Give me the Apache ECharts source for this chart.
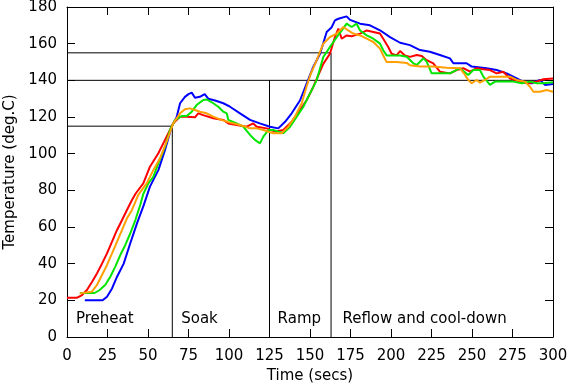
<!DOCTYPE html>
<html>
<head>
<meta charset="utf-8">
<script src="https://cdn.jsdelivr.net/npm/echarts@6/dist/echarts.min.js"></script>
<style>html,body{margin:0;padding:0;background:#fff}#c{width:573px;height:386px}</style>
</head>
<body>
<div id="c"></div>
<script>
// Time (secs), Temperature (deg.C)
const blueData = [[11,20],[22,20],[24.7,22],[27.8,26.5],[30.9,32.9],[35,40],[39,51],[43.2,62],[47.2,71.5],[51.2,82],[56.4,91],[60.5,102],[64.6,114.7],[67.7,120],[69.8,127.5],[72.8,131],[75,132.5],[77,133.3],[79,130.5],[82,131],[85,132.5],[87.2,130],[91.4,129],[96.5,127.5],[100.6,125.6],[106.8,122],[113,118.4],[119,116.5],[125.3,114.7],[130.4,113.8],[134.6,117.4],[138.7,122],[143.8,129],[148,138.4],[152,147.3],[156.2,154.5],[160.3,166.4],[163.4,169],[165.4,172.7],[167.5,173.6],[172.6,174.9],[174.7,173],[180.9,170.9],[187,170],[193.2,167.3],[199.4,163.6],[205.6,160.5],[211.7,159.2],[217.9,156.5],[224,155.6],[230.2,153.8],[236.4,152],[238.5,149.3],[246.7,149.3],[249.8,147.5],[259,146.6],[265.2,145.6],[271.4,143.8],[277.6,141],[282.7,138.7],[286.8,138.4],[292,140.2],[295,137.5],[300,138]];
const redData = [[0,21.4],[6,21.4],[9.3,22.9],[12.3,25.6],[15.4,30],[18.5,34.7],[21.6,40],[24.7,45.6],[27.8,52],[30.9,58.4],[34,63.8],[37,69.3],[40.1,74.7],[42.5,78.4],[47.1,83.8],[51.2,92.9],[56.4,100.2],[61.5,109.3],[65.6,116.6],[69.8,120.2],[73.9,120.2],[79,119.8],[81,122],[84.1,121],[90.3,119.3],[96.5,118.4],[99.6,116.5],[104.7,115.6],[110.9,114.7],[115,116.5],[117.1,114.7],[123.3,113.8],[128.4,112],[133.5,112.9],[138.7,117.4],[143.8,123.8],[148,129.3],[152,136.4],[158.2,149],[162.3,154.5],[165.4,163.6],[167.5,168.2],[169.6,162.7],[172.6,164.5],[175.7,164],[180.9,165.5],[185,167.2],[189.1,166.4],[193.2,165.5],[195.2,162.7],[198.3,158.2],[200.4,154.5],[203.5,153.6],[205.6,156],[208.6,153.6],[211.7,152.8],[215.9,153.8],[219,153.3],[222,151],[226.1,149.3],[230.2,144.7],[236.4,143.8],[240.5,145.6],[244.6,146.6],[248.8,144.7],[252.9,146.6],[257,146],[261.1,145.6],[265.2,143.8],[269.3,144.7],[273.5,141],[279.6,139.3],[284.8,138.4],[289.9,139.3],[294,140.6],[300,141]];
const greenData = [[8,24],[17,24],[20,25.5],[23.7,28.5],[26.8,33],[29.8,38.4],[32.9,44.7],[36,50.2],[39.1,56.6],[42.2,63.8],[45.2,72],[47.1,78],[50.2,83.8],[53.3,87.4],[56.4,94.7],[60.5,103.8],[63.6,112.9],[66.7,118.4],[70.8,120.5],[73.9,120.5],[77,122.9],[80,126.5],[84.1,129.3],[86.2,129.6],[90.3,127.5],[93.4,125.6],[96.5,122.9],[98.6,122],[99.6,118.4],[104.7,116.5],[108.8,114.7],[113,110.2],[116,107.5],[119.1,105.6],[121.2,109.3],[124.3,112.9],[127.3,112.9],[130.4,112],[133.5,111.1],[137.7,114.7],[141.8,120.2],[145.9,125.6],[150,132.9],[154.1,140],[158.2,152.7],[162.3,158.2],[166.5,163.6],[169.6,167.3],[172.6,170.9],[175.7,169.1],[178.8,170.9],[180.9,167.2],[185,164.5],[189.1,162.7],[193.2,160],[195.2,156.4],[197.3,153.6],[205.6,153.6],[209.7,152.9],[213.8,149.3],[215.9,148.4],[220,152],[222,150.2],[225.1,143.8],[236.4,143.8],[242.6,146.6],[247.7,142.9],[250.8,145.6],[254.9,145.6],[257,142],[261.1,137.5],[264.2,139.3],[269.3,139.3],[275.5,139.3],[280.7,138.4],[285.8,139.3],[289.9,138.4],[294,138.4],[300,139]];
const orangeData = [[7.8,23.8],[15.4,24.7],[18.5,28.4],[21.6,33.8],[24.7,39.3],[27.8,45.6],[30.9,52],[34,58.4],[37,64.7],[40.1,69.3],[44,77.5],[49.2,83.8],[53.3,91],[57.4,97.5],[61.5,106.5],[65.6,116.6],[69.8,122],[72.8,124.2],[75.9,124.7],[79,123.8],[82,122.9],[86.2,122],[90.3,120.2],[94.4,118.7],[99.6,117.2],[106.8,115.6],[113,113.8],[117.1,113.8],[121.2,112.9],[127.3,111.1],[132.5,111.1],[136.6,114.7],[140.7,120.2],[144.9,127.5],[147.8,136.5],[150.5,143.6],[154.1,150.9],[158.2,160],[162.3,163.6],[166.5,165.5],[170.6,169.1],[173.6,167.2],[176.7,165.5],[180.9,164.5],[185,162.7],[189.1,160.9],[193.2,157.3],[195.2,153.6],[197.3,150],[203.5,150],[209.7,149.5],[211.7,148.2],[217.9,147.5],[226.1,147.5],[234.4,146.9],[242.6,146.6],[245.7,142.9],[247.7,140.2],[249.8,138.4],[252.9,140.2],[254.9,138.7],[258,140.2],[261.1,142],[267.3,142],[273.5,142],[277.6,140.2],[282.7,139.3],[285.8,136.5],[287.9,133.8],[292,133.8],[296,134.7],[300,133.8]];

// Phase boundaries and reference temperatures
const phaseEnds = [65, 125, 163];
const phaseTemps = [115, 140, 155];
const phaseNames = ['Preheat', 'Soak', 'Ramp', 'Reflow and cool-down'];
const phaseLabelX = [5.5, 70.5, 130, 170];
const phaseLabelY = 10;

const xTicks = { min: 0, max: 300, interval: 25 };
const yTicks = { min: 0, max: 180, interval: 20 };

const FONT = 'DejaVu Sans';
const chart = echarts.init(document.getElementById('c'), null, { renderer: 'canvas' });

const refStyle = { color: '#000', width: 1 };
const refLines = [
  [[0, phaseTemps[0]], [phaseEnds[0], phaseTemps[0]], [phaseEnds[0], 0]],
  [[0, phaseTemps[1]], [xTicks.max, phaseTemps[1]]],
  [[phaseEnds[1], phaseTemps[1]], [phaseEnds[1], 0]],
  [[0, phaseTemps[2]], [phaseEnds[2], phaseTemps[2]], [phaseEnds[2], 0]]
];

function axisCommon(show) {
  return {
    axisLine: { show: true, onZero: false, lineStyle: { color: '#000', width: 1 } },
    axisTick: { show: true, inside: true, length: 8, lineStyle: { color: '#000', width: 1 } },
    axisLabel: { show: show, color: '#000', fontFamily: FONT, fontSize: 15 },
    splitLine: { show: false }
  };
}

const series = [];
refLines.forEach(function (pts) {
  series.push({ type: 'line', data: pts, symbol: 'none', lineStyle: refStyle, silent: true, z: 1, animation: false });
});
const curveDefs = [
  { data: blueData, color: '#0000ff' },
  { data: redData, color: '#ff0000' },
  { data: greenData, color: '#00e600' },
  { data: orangeData, color: '#ffa000' }
];
curveDefs.forEach(function (c, i) {
  series.push({ type: 'line', data: c.data, symbol: 'none', lineStyle: { color: c.color, width: 2 }, z: 3 + i, animation: false });
});
series.push({
  type: 'scatter', symbolSize: 0, animation: false, silent: true, z: 10,
  itemStyle: { opacity: 1 },
  data: phaseNames.map(function (n, i) { return { value: [phaseLabelX[i], phaseLabelY], name: n }; }),
  label: { show: true, position: 'right', distance: 0, formatter: '{b}', color: '#000', opacity: 1, fontFamily: FONT, fontSize: 15 }
});

chart.setOption({
  backgroundColor: '#fff',
  animation: false,
  grid: { left: 67, top: 7, width: 486, height: 330, containLabel: false, outerBoundsMode: 'none' },
  xAxis: [
    Object.assign({ type: 'value', position: 'bottom', min: xTicks.min, max: xTicks.max, interval: xTicks.interval,
      name: 'Time (secs)', nameLocation: 'middle', nameGap: 29,
      nameTextStyle: { color: '#000', fontFamily: FONT, fontSize: 15 } }, axisCommon(true),
      { axisLabel: { color: '#000', fontFamily: FONT, fontSize: 15, margin: 12 } }),
    Object.assign({ type: 'value', position: 'top', min: xTicks.min, max: xTicks.max, interval: xTicks.interval }, axisCommon(false))
  ],
  yAxis: [
    Object.assign({ type: 'value', position: 'left', min: yTicks.min, max: yTicks.max, interval: yTicks.interval,
      name: 'Temperature (deg.C)', nameLocation: 'middle', nameGap: 48,
      nameTextStyle: { color: '#000', fontFamily: FONT, fontSize: 15 } }, axisCommon(true),
      { axisLabel: { color: '#000', fontFamily: FONT, fontSize: 15, margin: 10 } }),
    Object.assign({ type: 'value', position: 'right', min: yTicks.min, max: yTicks.max, interval: yTicks.interval }, axisCommon(false))
  ],
  series: series
});
</script>
</body>
</html>
